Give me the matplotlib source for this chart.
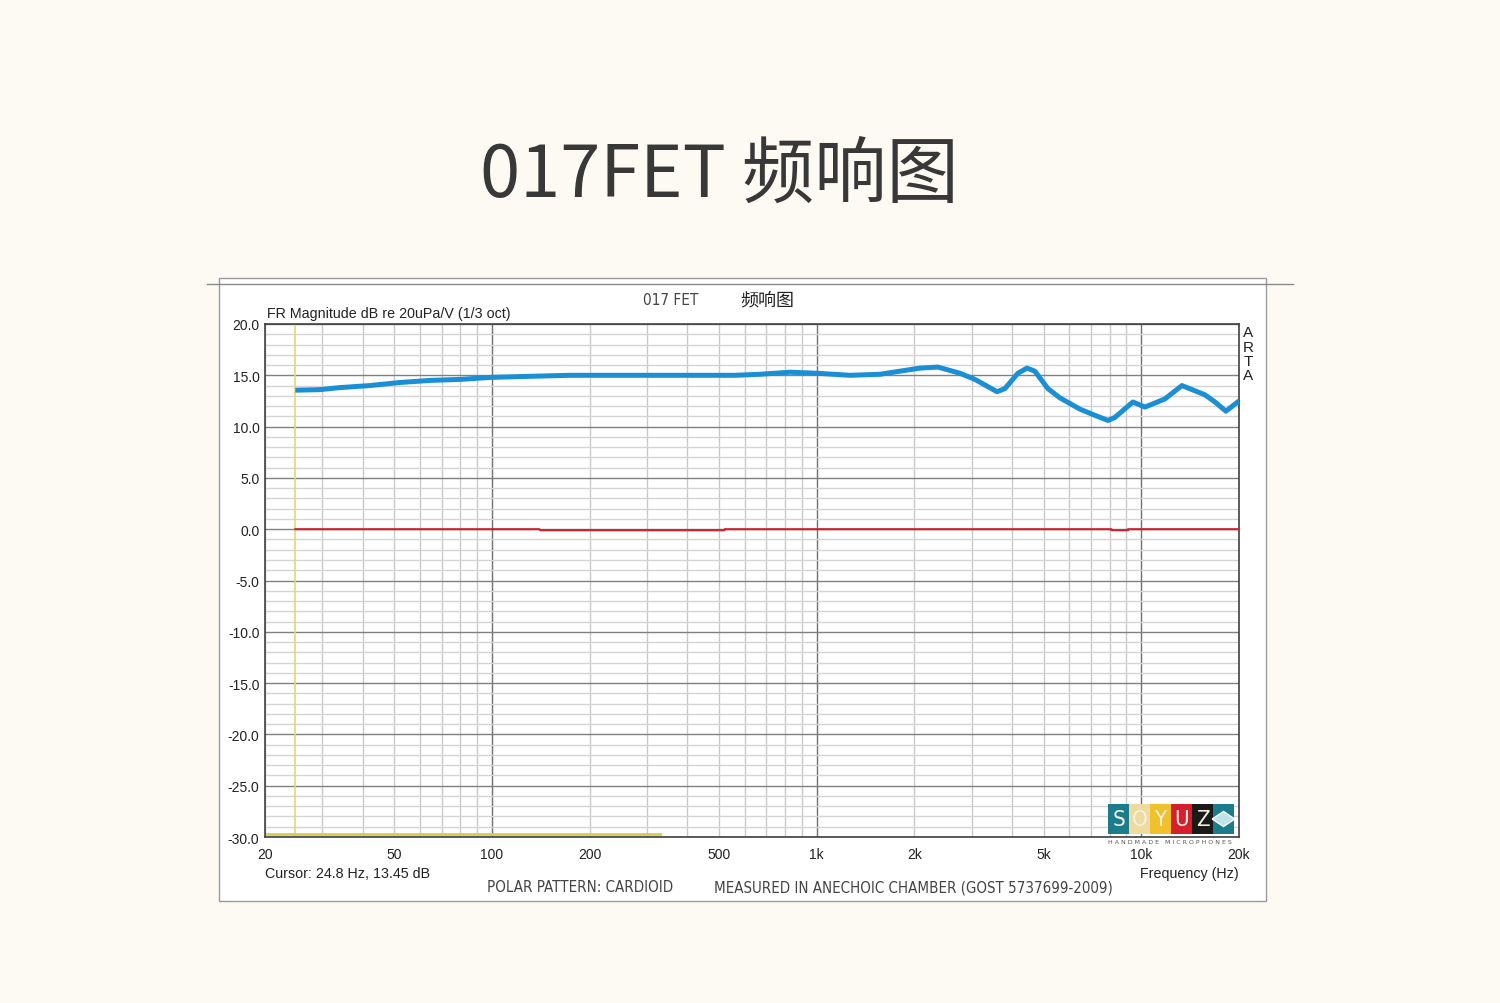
import matplotlib
matplotlib.use("Agg")
import matplotlib.pyplot as plt
import numpy as np
from matplotlib.patches import Rectangle, RegularPolygon
from matplotlib.lines import Line2D

# frequency response (1/3 oct)
freq = [24.8, 29.5, 34.0, 42.1, 52.1, 64.4, 79.7, 100, 131, 174, 307, 561, 669,
        828, 1003, 1267, 1567, 1805, 2081, 2364, 2763, 3074, 3594, 3802, 4169,
        4446, 4703, 5157, 5618, 6473, 7199, 7896, 8297, 9425, 10264, 11827,
        13344, 15703, 16862, 18226, 20000]
mag = [13.55, 13.6, 13.8, 14.0, 14.3, 14.5, 14.6, 14.8, 14.9, 15.0, 15.0, 15.0,
       15.1, 15.3, 15.2, 15.0, 15.1, 15.4, 15.7, 15.8, 15.2, 14.6, 13.4, 13.7,
       15.2, 15.7, 15.4, 13.7, 12.8, 11.7, 11.1, 10.6, 10.9, 12.4, 11.9, 12.7,
       14.0, 13.1, 12.4, 11.5, 12.5]

# reference (red) trace
ref_freq = [24.8, 140, 141, 520, 521, 8100, 8101, 9100, 9101, 20000]
ref_mag = [0.0, 0.0, -0.1, -0.1, 0.0, 0.0, -0.1, -0.1, 0.0, 0.0]

cursor_f = 24.8
xticks = [20, 50, 100, 200, 500, 1000, 2000, 5000, 10000, 20000]
xticklabels = ["20", "50", "100", "200", "500", "1k", "2k", "5k", "10k", "20k"]
yticks = np.arange(-30, 21, 5)

BG = "#fcfaf2"
fig = plt.figure(figsize=(15, 10.04), dpi=100, facecolor=BG)

def fx(px):
    return px / 1500

def fy(py):
    return 1 - py / 1004

# big title
fig.text(fx(719), fy(176), "017FET 频响图", ha="center", va="center", fontsize=52,
         color="#383838", family=["Noto Sans CJK SC", "DejaVu Sans"])

# white panel (behind the axes)
fig.patches.append(Rectangle((fx(219), fy(902)), fx(1266 - 219), (902 - 279) / 1004,
                             transform=fig.transFigure, facecolor="white",
                             edgecolor="#9a9a9a", lw=1.0, zorder=-5))
fig.lines.append(Line2D([fx(207), fx(1293)], [fy(285), fy(285)], transform=fig.transFigure,
                        color="#8a8a8a", lw=1.0, zorder=-4))

ax = fig.add_axes([fx(265), fy(838), fx(1239 - 265), (838 - 325) / 1004])
ax.set_facecolor("white")
ax.set_xscale("log")
ax.set_xlim(20, 20000)
ax.set_ylim(-30, 20)

# grid
minor_x = [f for d in [10, 100, 1000, 10000] for f in range(2 * d, 10 * d, d) if 20 <= f <= 20000]
for f in minor_x:
    ax.axvline(f, color="#c9c9c9", lw=1.0, zorder=1)
for f in [100, 1000, 10000]:
    ax.axvline(f, color="#707070", lw=1.0, zorder=1)
for v in range(-30, 21):
    ax.axhline(v, color="#808080" if v % 5 == 0 else "#d4d4d4", lw=1.0, zorder=1)

# cursor lines (yellow)
ax.axvline(cursor_f, color="#e6d673", lw=1.2, zorder=2)
ax.plot([20, 329], [-29.7, -29.7], color="#d8cc55", lw=2.0, zorder=2)

ax.plot(ref_freq, ref_mag, color="#d0202a", lw=1.5, zorder=3)
ax.plot(freq, mag, color="#1a8fd6", lw=3.6, solid_capstyle="butt",
        solid_joinstyle="round", zorder=4)

for s in ax.spines.values():
    s.set_color("#404040")
    s.set_linewidth(1.2)

ax.set_xticks(xticks)
ax.set_xticklabels(xticklabels)
ax.set_xticks([], minor=True)
ax.set_yticks(yticks)
ax.set_yticklabels(["%.1f" % v for v in yticks])
ax.tick_params(axis="both", length=0, labelsize=10, colors="#222222",
               labelfontfamily="Liberation Sans")
ax.tick_params(axis="x", pad=7)
ax.tick_params(axis="y", pad=4)

small = dict(family="Liberation Sans", color="#222222", fontsize=10.3)
fig.text(fx(267), fy(314), "FR Magnitude dB re 20uPa/V (1/3 oct)", ha="left", va="center", **small)
fig.text(fx(265), fy(874), "Cursor: 24.8 Hz, 13.45 dB", ha="left", va="center", **small)
fig.text(fx(1239), fy(874), "Frequency (Hz)", ha="right", va="center", **small)

narrow = dict(family="DejaVu Sans", fontstretch="condensed", color="#444444")
fig.text(fx(643), fy(301), "017 FET", ha="left", va="center", fontsize=11, **narrow)
fig.text(fx(767), fy(301), "频响图", ha="center", va="center", fontsize=13,
         color="#222222", family=["Noto Sans CJK SC", "DejaVu Sans"])
fig.text(fx(487), fy(888), "POLAR PATTERN: CARDIOID", ha="left", va="center",
         fontsize=10.8, **narrow)
fig.text(fx(714), fy(888), "MEASURED IN ANECHOIC CHAMBER (GOST 5737699-2009)", ha="left",
         va="center", fontsize=10.8, **narrow)

for i, ch in enumerate("ARTA"):
    fig.text(fx(1248), fy(333 + i * 14.5), ch, ha="center", va="center", fontsize=11,
             color="#222222", family="Liberation Sans")

# SOYUZ logo
logo_cols = ["#1b7d8c", "#eedba0", "#f0c12c", "#d61f2d", "#1a1a1a", "#1b7d8c"]
logo_chars = ["S", "O", "Y", "U", "Z", ""]
x0, w, top, bot = 1108, 21, 805, 835
for i, (c, ch) in enumerate(zip(logo_cols, logo_chars)):
    fig.patches.append(Rectangle((fx(x0 + i * w), fy(bot)), fx(w), (bot - top) / 1004,
                                 transform=fig.transFigure, facecolor=c, edgecolor="none",
                                 zorder=5))
    if ch:
        fig.text(fx(x0 + i * w + w / 2), fy((top + bot) / 2), ch, ha="center", va="center",
                 fontsize=16, color="#f5f0e0", family="DejaVu Sans",
                 fontstretch="condensed", zorder=6)
fig.patches.append(RegularPolygon((fx(x0 + 5 * w + w / 2), fy((top + bot) / 2)), 4,
                                  radius=0.0075, transform=fig.transFigure,
                                  facecolor="#bfe3e6", edgecolor="white", zorder=6))
fig.text(fx(1170), fy(842), "H A N D M A D E   M I C R O P H O N E S", ha="center",
         va="center", fontsize=4.5, color="#555555", family="DejaVu Sans", zorder=6)

fig.savefig("out.png", dpi=100, facecolor=BG)
